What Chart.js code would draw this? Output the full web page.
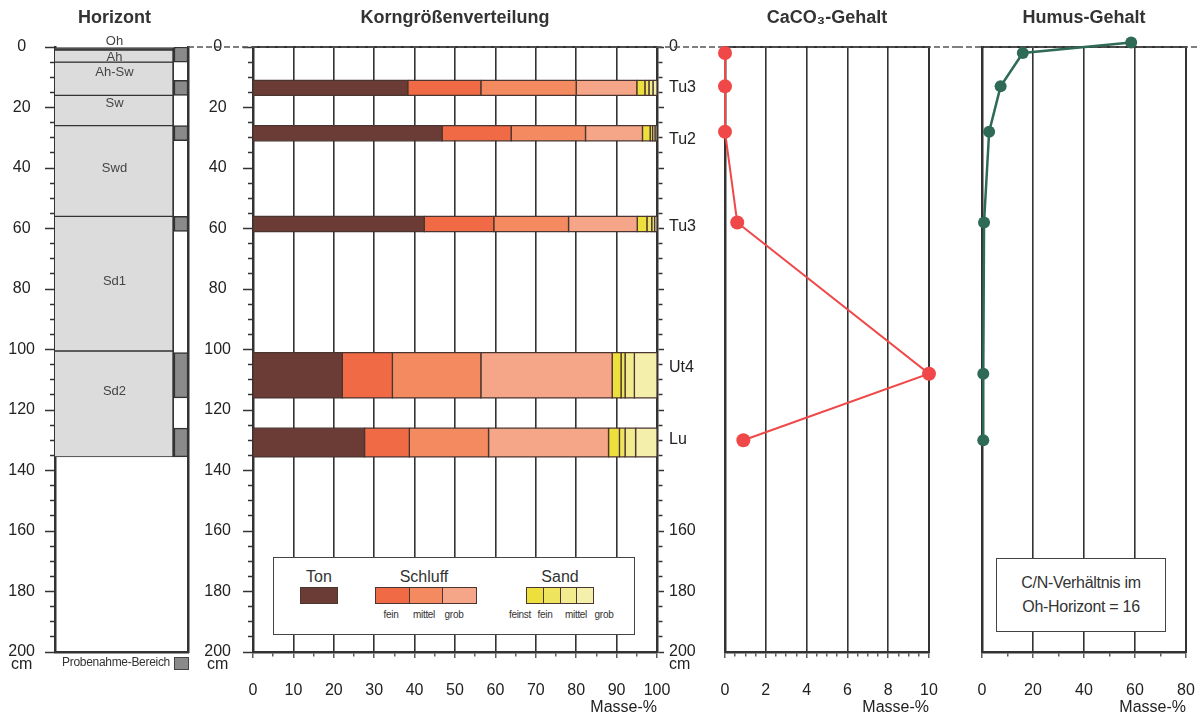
<!DOCTYPE html>
<html>
<head>
<meta charset="utf-8">
<script src="https://cdn.jsdelivr.net/npm/chart.js@4.4.1/dist/chart.umd.min.js"></script>
<style>
    body { margin: 0; background: #fff; width: 1198px; height: 717px; position: relative; overflow: hidden;
           font-family: 'Liberation Sans Narrow', 'Liberation Sans', Arial, sans-serif; color: #333; }
    canvas { position: absolute; top: 0; }
    .abs { position: absolute; }
    .frame { position: absolute; border: 1.5px solid #444; background: #fff; box-sizing: border-box; }
    .lbl { position: absolute; transform: translate(-50%, -50%); white-space: nowrap; }
    .sw { position: absolute; border: 1.5px solid #4a3530; box-sizing: border-box; }
</style>
</head>
<body>
<canvas id="horizon" width="174" height="717" style="left:0"></canvas>
<canvas id="sample" width="16" height="717" style="left:174px"></canvas>
<canvas id="grain" width="512" height="717" style="left:188px"></canvas>
<canvas id="caco3" width="257" height="717" style="left:700px"></canvas>
<canvas id="humus" width="241" height="717" style="left:957px"></canvas>

<div class="abs" style="left:62px;top:655px;font-size:12px;letter-spacing:-0.3px;">Probenahme-Bereich</div>
<div class="abs" style="left:174px;top:657px;width:13px;height:11px;background:#8a8a8a;border:1px solid #444;"></div>

<div id="legend" class="frame" style="left:273px;top:557px;width:362px;height:78px;"></div>

<div class="frame" style="left:996px;top:558px;width:170px;height:74px;font-size:16px;text-align:center;line-height:24px;padding-top:12px;letter-spacing:-0.3px;">
    C/N-Verhältnis im<br>Oh-Horizont = 16
</div>

<script>
/**
 * Bodenprofil: Horizonte, Korngrößen, CaCO3 und Humus
 */

// Horizonte (Tiefe in cm)
const horizonNames = ['Oh', 'Ah', 'Ah-Sw', 'Sw', 'Swd', 'Sd1', 'Sd2'];
const horizonTop = [0, 1, 5, 16, 26, 56, 100.5];
const horizonBottom = [1, 5, 16, 26, 56, 100.5, 135.5];
const horizonLabelDepth = [-1.7, 3.3, 8.3, 18.5, 40, 77.4, 114];

// Probenahme-Bereiche
const sampleTop = [0, 11, 26, 56, 101, 126];
const sampleBottom = [5, 16, 31, 61, 116, 135.5];

// Korngrößenverteilung (Masse-%)
const grainDepthTop = [11, 26, 56, 101, 126];
const grainDepthBottom = [16, 31, 61, 116, 135.5];
const ton = [38.3, 46.8, 42.4, 22.1, 27.6];
const schluffFein = [18.1, 17.1, 17.2, 12.4, 11.1];
const schluffMittel = [23.6, 18.4, 18.5, 21.9, 19.6];
const schluffGrob = [15.0, 14.1, 17.0, 32.5, 29.7];
const sandFeinst = [2.0, 1.9, 2.4, 2.2, 2.7];
const sandFein = [1.0, 0.6, 1.2, 1.0, 1.4];
const sandMittel = [1.0, 0.6, 0.7, 2.3, 2.6];
const sandGrob = [1.0, 0.5, 0.6, 5.6, 5.3];
const textureClass = ['Tu3', 'Tu2', 'Tu3', 'Ut4', 'Lu'];
const textureLabelDepth = [13.3, 30.7, 59.5, 106.1, 129.9];

// CaCO3-Gehalt
const caco3Depth = [2, 13, 28, 58, 108, 130];
const caco3Value = [0, 0, 0, 0.6, 10, 0.9];

// Humus-Gehalt
const humusDepth = [-1.5, 2, 13, 28, 58, 108, 130];
const humusValue = [58.5, 16, 7.3, 2.8, 0.8, 0.5, 0.5];

const grainSeries = [ton, schluffFein, schluffMittel, schluffGrob, sandFeinst, sandFein, sandMittel, sandGrob];
const grainClasses = ['Ton', 'fU', 'mU', 'gU', 'ffS', 'fS', 'mS', 'gS'];
const grainColors = ['#6b3b36', '#f06a45', '#f48a60', '#f5a688', '#eee03c', '#efe45e', '#f3ec8e', '#f5efac'];

const INK = '#333';
const CLEAR = 'rgba(0,0,0,0)';
const FONT = "'Liberation Sans Narrow', 'Liberation Sans', Arial, sans-serif";
const UNIT_DEPTH = 204;   // Platz für "cm" unter der 200

Chart.defaults.font.family = FONT;
Chart.defaults.color = '#222';
Chart.defaults.animation = false;
Chart.defaults.responsive = false;
Chart.defaults.devicePixelRatio = 1;
Chart.defaults.plugins.legend.display = false;
Chart.defaults.plugins.tooltip.enabled = false;

const tickFont = { size: 16 };

const fixWidth = w => s => { s.width = w; };
const fixHeight = h => s => { s.height = h; s.paddingLeft = 0; s.paddingRight = 0; };

function titleOpts(text) {
    return {
        display: true,
        text: text,
        fullSize: false,
        color: '#333',
        font: { family: "'Liberation Sans', Arial, sans-serif", size: 18, weight: 'bold' },
        padding: { top: 7, bottom: 18.4 }
    };
}

function depthLabel(v) {
    if (v === UNIT_DEPTH) return 'cm';
    return v % 20 === 0 ? String(v) : '';
}

const isMajorDepth = c => c.tick && c.tick.value % 20 === 0;

function depthAxis(extra) {
    return Object.assign({
        type: 'linear', min: 0, max: 200, reverse: true,
        border: { color: INK, width: 2.5 }
    }, extra);
}

// linke Tiefenachse mit Teilstrichen alle 5 cm
function depthLeftAxis(width, pad) {
    return depthAxis({
        afterBuildTicks: s => { s.ticks.push({ value: UNIT_DEPTH }); },
        ticks: { stepSize: 5, autoSkip: false, font: tickFont, crossAlign: 'center', padding: pad, callback: depthLabel },
        grid: {
            drawOnChartArea: false, tickLength: 10, tickWidth: 1.5,
            tickColor: c => (c.tick && c.tick.value > 200 ? CLEAR : INK),
            tickBorderDash: c => (isMajorDepth(c) ? [] : [0, 5, 10])
        },
        afterFit: fixWidth(width)
    });
}

function borderAxis(position, w) {
    return {
        type: 'linear', position: position, min: 0, max: 1, display: true,
        ticks: { display: false },
        grid: { display: false, drawTicks: false },
        border: { color: INK, width: w },
        afterFit: position === 'top' ? fixHeight(0) : fixWidth(2)
    };
}

function valueAxis(max, step, labelEvery, gridEvery) {
    const isLabel = v => Math.abs(v % labelEvery) < 1e-9;
    return {
        type: 'linear', position: 'bottom', min: 0, max: max,
        ticks: {
            stepSize: step, autoSkip: false, font: tickFont, padding: 23, maxRotation: 0,
            callback: v => (isLabel(v) ? String(v) : '')
        },
        grid: {
            color: c => (c.tick && Math.abs(c.tick.value % gridEvery) < 1e-9 ? '#333' : CLEAR),
            lineWidth: 1.6, tickColor: INK, tickLength: 6, tickWidth: 1.2,
            tickBorderDash: c => (c.tick && isLabel(c.tick.value) ? [] : [3, 20])
        },
        border: { color: INK, width: 2.5 },
        title: { display: true, text: 'Masse-%', align: 'end', font: { size: 16 }, padding: { top: 0, bottom: 0 } },
        afterFit: fixHeight(65)
    };
}

// gestrichelte Null-Linie quer über die Diagramme
const zeroLine = {
    id: 'zeroLine',
    beforeDatasetsDraw(chart) {
        const y = chart.scales.y.getPixelForValue(0);
        const ctx = chart.ctx;
        ctx.save();
        ctx.strokeStyle = '#555';
        ctx.lineWidth = 1.5;
        ctx.setLineDash([6, 3]);
        ctx.beginPath();
        ctx.moveTo(0, y);
        ctx.lineTo(chart.width, y);
        ctx.stroke();
        ctx.restore();
    }
};

const horizonLabels = {
    id: 'horizonLabels',
    afterDatasetsDraw(chart) {
        const { ctx, chartArea, scales: { y } } = chart;
        ctx.save();
        ctx.font = '13px ' + FONT;
        ctx.fillStyle = '#444';
        ctx.textAlign = 'center';
        ctx.textBaseline = 'middle';
        horizonNames.forEach((n, i) => {
            ctx.fillText(n, (chartArea.left + chartArea.right) / 2, y.getPixelForValue(horizonLabelDepth[i]));
        });
        ctx.restore();
    }
};

/**
 * Horizonte
 */
new Chart(document.getElementById('horizon'), {
    type: 'bar',
    data: {
        labels: ['Profil'],
        datasets: horizonNames.map((n, i) => ({
            label: n,
            data: [[horizonTop[i], horizonBottom[i]]],
            backgroundColor: i === 0 ? '#5e5e5e' : '#dcdcdc',
            borderColor: INK,
            borderWidth: { top: 1, bottom: 1, left: 0, right: 2 },
            borderSkipped: false,
            barPercentage: 1,
            categoryPercentage: 1
        }))
    },
    options: {
        plugins: { title: titleOpts('Horizont') },
        scales: {
            x: {
                stacked: true,
                ticks: { display: false },
                grid: { display: false },
                border: { color: INK, width: 2.5 },
                afterFit: fixHeight(65)
            },
            y: depthLeftAxis(55, 10)
        }
    },
    plugins: [horizonLabels]
});

/**
 * Probenahme-Bereich
 */
new Chart(document.getElementById('sample'), {
    type: 'bar',
    data: {
        labels: ['Probe'],
        datasets: sampleTop.map((t, i) => ({
            label: 'Probenahme-Bereich',
            data: [[t, sampleBottom[i]]],
            backgroundColor: '#8a8a8a',
            borderColor: INK,
            borderWidth: 1.5,
            borderSkipped: false,
            barPercentage: 1,
            categoryPercentage: 1
        }))
    },
    options: {
        layout: { padding: { top: 47 } },
        scales: {
            x: {
                stacked: true,
                ticks: { display: false },
                grid: { display: false },
                border: { color: INK, width: 2.5 },
                afterFit: fixHeight(65)
            },
            y: depthAxis({
                position: 'right',
                ticks: { display: false },
                grid: { display: false },
                afterFit: fixWidth(2)
            })
        }
    }
});

/**
 * Korngrößenverteilung
 */
const grainDatasets = [];
grainDepthTop.forEach((top, b) => {
    const bottom = grainDepthBottom[b];
    let start = 0;
    grainSeries.forEach((series, k) => {
        const end = start + series[b];
        grainDatasets.push({
            label: grainClasses[k],
            data: [
                { x: start, y: top }, { x: end, y: top },
                { x: end, y: bottom }, { x: start, y: bottom }, { x: start, y: top }
            ],
            backgroundColor: grainColors[k],
            borderColor: '#4a3530',
            borderWidth: 1.3,
            fill: 'shape',
            pointRadius: 0,
            tension: 0
        });
        start = end;
    });
});

new Chart(document.getElementById('grain'), {
    type: 'line',
    data: { datasets: grainDatasets },
    options: {
        plugins: { title: titleOpts('Korngrößenverteilung') },
        scales: {
            x: valueAxis(100, 5, 10, 10),
            xTop: borderAxis('top', 2),
            y: depthLeftAxis(65, 12),
            y2: depthAxis({
                position: 'right',
                afterBuildTicks: scale => {
                    const t = [];
                    for (let v = 0; v <= 200; v += 5) t.push({ value: v });
                    textureLabelDepth.forEach(d => t.push({ value: d }));
                    t.push({ value: UNIT_DEPTH });
                    t.sort((a, b) => a.value - b.value);
                    scale.ticks = t;
                },
                ticks: {
                    autoSkip: false, font: tickFont, padding: 5,
                    callback: v => {
                        const i = textureLabelDepth.indexOf(v);
                        if (i >= 0) return textureClass[i];
                        if (v === 0 || v >= 160) return depthLabel(v);
                        return '';
                    }
                },
                grid: {
                    drawOnChartArea: false, tickLength: 7, tickWidth: 1.5,
                    tickColor: c => (c.tick && (textureLabelDepth.includes(c.tick.value) || c.tick.value > 200) ? CLEAR : INK),
                    tickBorderDash: c => (isMajorDepth(c) ? [] : [4, 20])
                },
                afterFit: fixWidth(43)
            })
        }
    },
    plugins: [zeroLine]
});

/**
 * CaCO3-Gehalt
 */
new Chart(document.getElementById('caco3'), {
    type: 'line',
    data: {
        datasets: [{
            label: 'CaCO3',
            data: caco3Depth.map((d, i) => ({ x: caco3Value[i], y: d })),
            borderColor: '#f04848',
            borderWidth: 2,
            pointRadius: 7,
            pointBackgroundColor: '#f04848',
            pointBorderWidth: 0,
            tension: 0,
            fill: false,
            clip: false
        }]
    },
    options: {
        layout: { padding: { right: 26 } },
        plugins: { title: titleOpts('CaCO\u2083-Gehalt') },
        scales: {
            x: valueAxis(10, 0.5, 2, 2),
            xTop: borderAxis('top', 2),
            y: depthAxis({ ticks: { display: false }, grid: { display: false }, afterFit: fixWidth(25) }),
            y2: borderAxis('right', 2)
        }
    },
    plugins: [zeroLine]
});

/**
 * Humus-Gehalt
 */
new Chart(document.getElementById('humus'), {
    type: 'line',
    data: {
        datasets: [{
            label: 'Humus',
            data: humusDepth.map((d, i) => ({ x: humusValue[i], y: d })),
            borderColor: '#2e6a56',
            borderWidth: 2.5,
            pointRadius: 6,
            pointBackgroundColor: '#2e6a56',
            pointBorderWidth: 0,
            tension: 0,
            fill: false,
            clip: false
        }]
    },
    options: {
        layout: { padding: { right: 10 } },
        plugins: { title: titleOpts('Humus-Gehalt') },
        scales: {
            x: valueAxis(80, 10, 20, 20),
            xTop: borderAxis('top', 2),
            y: depthAxis({ ticks: { display: false }, grid: { display: false }, afterFit: fixWidth(25) }),
            y2: borderAxis('right', 2)
        }
    },
    plugins: [zeroLine]
});

/**
 * Legende Korngrößen
 */
const legend = document.getElementById('legend');
const legendGroups = [
    { name: 'Ton', cx: 45, left: 26, width: 37, classes: [0], sub: [], subX: [] },
    { name: 'Schluff', cx: 150, left: 101, width: 101, classes: [1, 2, 3], sub: ['fein', 'mittel', 'grob'], subX: [117, 150, 180] },
    { name: 'Sand', cx: 286, left: 252, width: 67, classes: [4, 5, 6, 7], sub: ['feinst', 'fein', 'mittel', 'grob'], subX: [246, 271, 302, 330] }
];
legendGroups.forEach(g => {
    const head = document.createElement('div');
    head.className = 'lbl';
    head.style.cssText = `left:${g.cx}px;top:19px;font-size:16px;`;
    head.textContent = g.name;
    legend.appendChild(head);
    const cw = g.width / g.classes.length;
    g.classes.forEach((k, j) => {
        const sw = document.createElement('div');
        sw.className = 'sw';
        sw.style.cssText = `left:${g.left + j * cw}px;top:29px;width:${cw + 1}px;height:17px;background:${grainColors[k]};`;
        legend.appendChild(sw);
    });
    g.sub.forEach((s, j) => {
        const el = document.createElement('div');
        el.className = 'lbl';
        el.style.cssText = `left:${g.subX[j]}px;top:56px;font-size:10px;letter-spacing:-0.3px;`;
        el.textContent = s;
        legend.appendChild(el);
    });
});
</script>
</body>
</html>
